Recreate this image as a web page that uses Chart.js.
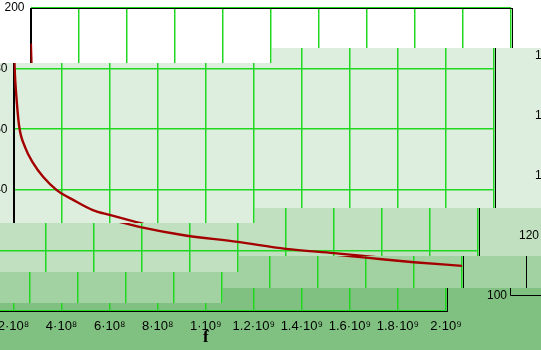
<!DOCTYPE html>
<html>
<head>
<meta charset="utf-8">
<script src="https://cdn.jsdelivr.net/npm/chart.js@4/dist/chart.umd.min.js"></script>
<style>
  html, body { margin: 0; padding: 0; background: #fff; overflow: hidden; }
  #wrap { width: 541px; height: 350px; overflow: hidden; }
</style>
</head>
<body>
<div id="wrap"><canvas id="plot" width="640" height="350"></canvas></div>
<script>
// curve: frequency (Hz) -> value
const freqs = [1.5e6, 4e6, 6e6, 1e7, 2.3e7, 4.8e7, 8.2e7, 1.24e8, 1.8e8, 2.5e8, 3.3e8, 4e8,
  5e8, 6e8, 7.7e8, 1e9, 1.2e9, 1.4e9, 1.6e9, 1.8e9, 2e9];
const values = [188.3, 181.7, 177.8, 172.8, 161.3, 154.1, 148.8, 144.2, 139.9, 136.6, 133.3, 131.7,
  129.6, 127.6, 125.1, 122.8, 120.5, 119.1, 117.6, 116.1, 114.9];

// tick labels
const xTicks = [0, 2e8, 4e8, 6e8, 8e8, 1e9, 1.2e9, 1.4e9, 1.6e9, 1.8e9, 2e9];
const xTickLabels = ["0", "2·10⁸", "4·10⁸", "6·10⁸", "8·10⁸", "1·10⁹", "1.2·10⁹", "1.4·10⁹", "1.6·10⁹", "1.8·10⁹", "2·10⁹"];
const yTickLabels = ["100", "120", "140", "160", "180", "200"];
// labels of the neighbouring plot that peeks in at the right
const y2TickLabels = ["100", "120", "140", "160", "180"];

const gridGreen = "#1fd81f";

// keep the plot box where it is, whatever the labels want
function pin(size) {
  return s => {
    if (s.isHorizontal()) s.height = size; else s.width = size;
    s.paddingTop = s.paddingBottom = s.paddingLeft = s.paddingRight = 0;
  };
}

// box round the plot area + edge of the next plot
const frame = {
  id: "frame",
  beforeDatasetsDraw(chart) {
    const a = chart.chartArea, ctx = chart.ctx;
    ctx.save();
    ctx.strokeStyle = "#000";
    ctx.lineWidth = 1;
    ctx.strokeRect(Math.round(a.left) + 0.5, Math.round(a.top) + 0.5,
      Math.round(a.right - a.left), Math.round(a.bottom - a.top));
    ctx.beginPath();
    ctx.moveTo(575.5, a.top);
    ctx.lineTo(575.5, 295.5);
    ctx.lineTo(chart.width, 295.5);
    ctx.stroke();
    ctx.restore();
  }
};

// the screenshot is a stack of horizontally slipped copies, each with a darker tint
const strips = [
  { dx: 0,   left: [0, 63],    right: [0, 48],    bg: "#ffffff" },
  { dx: -17, left: [63, 223],  right: [48, 208],  bg: "#deeede" },
  { dx: -33, left: [223, 272], right: [208, 256], bg: "#c0e0c0" },
  { dx: -49, left: [272, 303], right: [256, 288], bg: "#a2d2a2" },
  { dx: -65, left: [303, 350], right: [288, 350], bg: "#80c080" }
];
const split = 272;

const slip = {
  id: "slip",
  afterDraw(chart) {
    const cv = chart.canvas, W = cv.width, H = cv.height;
    const snap = document.createElement("canvas");
    snap.width = W; snap.height = H;
    snap.getContext("2d").drawImage(cv, 0, 0);
    const ctx = chart.ctx;
    ctx.save();
    ctx.setTransform(1, 0, 0, 1, 0, 0);
    ctx.clearRect(0, 0, W, H);
    for (const side of ["right", "left"]) {
      for (const s of strips) {
        const [y0, y1] = s[side];
        const sx = side === "left" ? 0 : split;
        const sw = side === "left" ? split : W - split;
        ctx.fillStyle = s.bg;
        ctx.fillRect(sx + s.dx, y0, sw, y1 - y0);
        ctx.drawImage(snap, sx, y0, sw, y1 - y0, sx + s.dx, y0, sw, y1 - y0);
      }
    }
    ctx.restore();
  }
};

Chart.defaults.font.family = "'Liberation Sans', Arial, sans-serif";
Chart.defaults.color = "#000";

new Chart(document.getElementById("plot").getContext("2d"), {
  type: "line",
  data: {
    datasets: [{
      data: freqs.map((f, i) => ({ x: f, y: values[i] })),
      borderColor: "#a40000",
      borderWidth: 2.4,
      pointRadius: 0,
      fill: false,
      cubicInterpolationMode: "monotone"
    }]
  },
  options: {
    responsive: false,
    devicePixelRatio: 1,
    animation: false,
    layout: { padding: { top: 8, left: 0, right: 0, bottom: 0 } },
    plugins: { legend: { display: false }, tooltip: { enabled: false } },
    scales: {
      x: {
        type: "linear",
        min: 0,
        max: 2e9,
        afterBuildTicks: s => { s.ticks = xTicks.map(v => ({ value: v })); },
        afterFit: pin(39),
        grid: { color: gridGreen, lineWidth: 1.5, drawTicks: false },
        border: { color: "#000", width: 1 },
        ticks: {
          padding: 8,
          maxRotation: 0,
          autoSkip: false,
          font: { size: 13 },
          callback: (v, i) => xTickLabels[i]
        },
        title: {
          display: true,
          text: "f",
          font: { family: "'Liberation Serif', 'Times New Roman', serif", size: 17, weight: "bold" },
          padding: { top: 0, bottom: 2 }
        }
      },
      y: {
        position: "left",
        min: 100,
        max: 200,
        afterFit: pin(30.5),
        grid: { color: gridGreen, lineWidth: 1.5, drawTicks: false },
        border: { color: "#000", width: 1 },
        ticks: {
          stepSize: 20,
          padding: 6,
          font: { size: 12 },
          callback: (v, i) => yTickLabels[i]
        }
      },
      y2: {
        position: "right",
        min: 95,
        max: 196,
        afterFit: pin(129),
        grid: { display: false, drawTicks: false },
        border: { display: false },
        ticks: {
          stepSize: 20,
          includeBounds: false,
          padding: 41,
          font: { size: 12 },
          callback: (v, i) => y2TickLabels[i]
        }
      }
    }
  },
  plugins: [frame, slip]
});
</script>
</body>
</html>
